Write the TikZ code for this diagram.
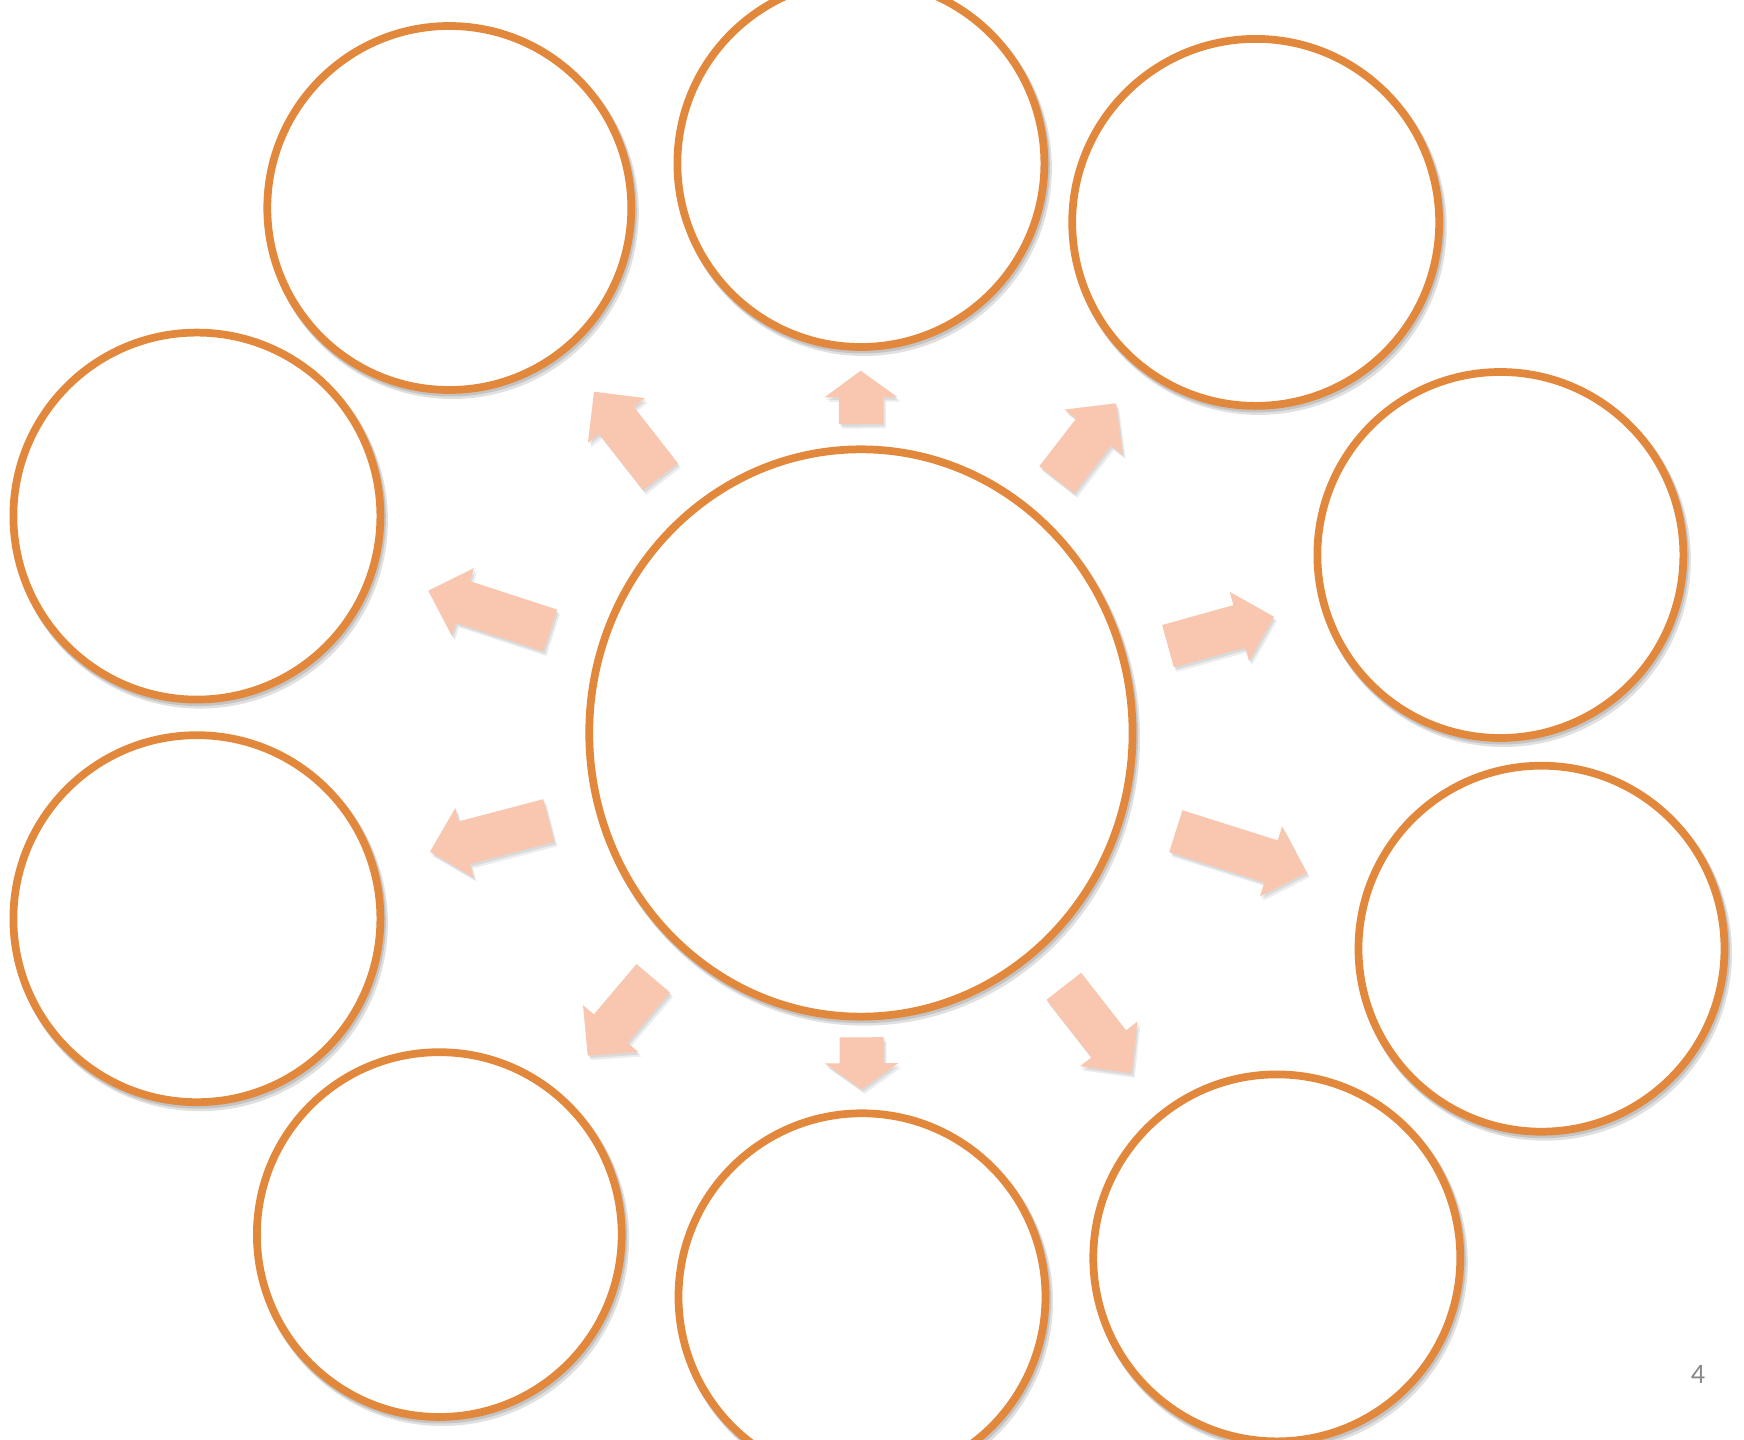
\documentclass[tikz,border=0pt]{standalone}
\usepackage{fontspec}
\setmainfont{Carlito}
\usetikzlibrary{shapes.geometric}
\definecolor{ringcol}{RGB}{226,136,60}
\definecolor{peach}{RGB}{249,199,175}
\definecolor{pnum}{RGB}{137,137,137}
\tikzset{
  ringnode/.style={circle, draw=ringcol, line width=2.2pt, fill=white, inner sep=0pt, minimum size=#1},
  shadowfill/.style={black, opacity=0.12},
  pagenum/.style={text=pnum, font=\fontsize{8pt}{9.6pt}\selectfont, inner sep=0pt}
}
% ring with soft shadow: name, x, y, radius (px)
\newcommand\ringc[4]{%
  \fill[shadowfill] (#2+3,#3+4.5) circle[radius={(#4+4.5)*0.01cm}];
  \fill[shadowfill] (#2+1.5,#3+2.5) circle[radius={(#4+4)*0.01cm}];
  \node[ringnode={(2*#4)*0.01cm}] (#1) at (#2,#3) {};
}
% block arrow: tail x,y ; tip x,y ; head width ; head length (px)
\newcommand\blockarr[6]{%
  \pgfmathsetmacro\qdx{#3-#1}\pgfmathsetmacro\qdy{#4-#2}%
  \pgfmathsetmacro\qL{veclen(\qdx,\qdy)}%
  \pgfmathsetmacro\qux{\qdx/\qL}\pgfmathsetmacro\quy{\qdy/\qL}%
  \pgfmathsetmacro\qnx{-\quy}\pgfmathsetmacro\qny{\qux}%
  \pgfmathsetmacro\qbx{#3-#6*\qux}\pgfmathsetmacro\qby{#4-#6*\quy}%
  \def\qw{22}\pgfmathsetmacro\qh{#5/2}%
  \foreach \sx/\sy/\op/\col in {3/4.5/0.07/black, 1.5/2.5/0.08/black, 0/0/1/peach} {
    \fill[\col, opacity=\op, shift={(\sx,\sy)}]
      ({#1+\qw*\qnx},{#2+\qw*\qny}) --
      ({\qbx+\qw*\qnx},{\qby+\qw*\qny}) --
      ({\qbx+\qh*\qnx},{\qby+\qh*\qny}) --
      (#3,#4) --
      ({\qbx-\qh*\qnx},{\qby-\qh*\qny}) --
      ({\qbx-\qw*\qnx},{\qby-\qw*\qny}) --
      ({#1-\qw*\qnx},{#2-\qw*\qny}) -- cycle;
  }
}
\begin{document}
\begin{tikzpicture}[x=0.01cm, y=-0.01cm]
\useasboundingbox (0,0) rectangle (1744,1440);
\fill[white] (0,0) rectangle (1744,1440);
\clip (0,0) rectangle (1744,1440);

% outer circles
\ringc{tl}{449.3}{208.0}{182}
\ringc{tc}{860.9}{163.5}{183.5}
\ringc{tr}{1255.7}{222.4}{183.5}
\ringc{lu}{196.9}{516.1}{183.5}
\ringc{ru}{1500.4}{555.0}{183}
\ringc{rl}{1541.5}{948.7}{183}
\ringc{ll}{196.9}{918.7}{183.5}
\ringc{bl}{439.3}{1234.6}{182.4}
\ringc{bc}{862.0}{1296.8}{183.5}
\ringc{br}{1276.8}{1257.9}{183.5}

% centre ellipse
\fill[shadowfill] (863.9,737.5) ellipse[x radius=2.76cm, y radius=2.88cm];
\fill[shadowfill] (862.4,735.5) ellipse[x radius=2.755cm, y radius=2.875cm];
\node[ellipse, draw=ringcol, line width=2.2pt, fill=white, inner sep=0pt,
      minimum width=5.43cm, minimum height=5.67cm] (ctr) at (860.9,733.0) {};

% block arrows
\blockarr{861}{424}{860.7}{370.7}{73}{26.6}
\blockarr{660.5}{476.7}{594}{391.7}{72.4}{36.5}
\blockarr{1056.7}{479.7}{1116}{403.3}{73.4}{36.4}
\blockarr{550.3}{630.5}{428.3}{590.7}{71.3}{36.4}
\blockarr{1168}{646.2}{1274}{616.7}{71.6}{36}
\blockarr{548.8}{820.5}{430}{851.7}{71.6}{35.6}
\blockarr{1175.8}{831.2}{1306.7}{872.7}{73.3}{37.4}
\blockarr{653.3}{978.3}{587.7}{1055.7}{72.5}{35.5}
\blockarr{861.5}{1037.3}{861.7}{1089.3}{73.3}{26}
\blockarr{1063.8}{986.3}{1131.7}{1073.3}{72.4}{37.3}

% page number
\node[pagenum] (pg) at (1698,1374) {4};
\end{tikzpicture}
\end{document}
